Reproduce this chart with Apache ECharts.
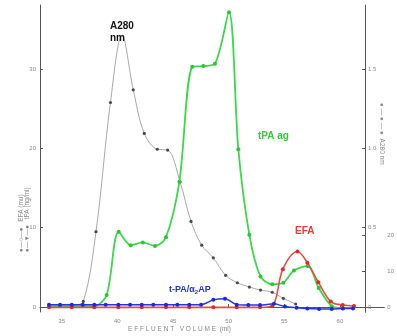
<!DOCTYPE html>
<html>
<head>
<meta charset="utf-8">
<script src="https://cdn.jsdelivr.net/npm/echarts@6/dist/echarts.min.js"></script>
<style>
html,body{margin:0;padding:0;background:#fff;}
#c{width:397px;height:336px;}
</style>
</head>
<body>
<div id="c"></div>
<script>
// Effluent volume (ml) of each fraction, per series
const xGray = [35.99, 36.94, 38.08, 39.38, 40.42, 41.43, 42.42, 43.59, 44.52, 45.63, 46.62, 47.58, 48.62, 49.73, 50.78, 51.86, 52.86, 53.92, 54.91, 56.02];
const a280 = [0.01, 0.035, 0.475, 1.29, 1.715, 1.37, 1.095, 0.995, 0.99, 0.79, 0.54, 0.39, 0.31, 0.2, 0.153, 0.126, 0.107, 0.093, 0.055, 0.019];
const grayHiddenMarkerIndex = 4;

const xGreen = [33.86, 34.85, 35.9, 36.89, 37.93, 39.04, 40.12, 41.2, 42.28, 43.38, 44.37, 45.57, 46.73, 47.72, 48.77, 50.03, 50.87, 51.86, 52.86, 53.92, 54.91, 55.87, 57.1, 58.09, 59.26, 60.25, 61.22];
const tpaAg = [0.1, 0.1, 0.1, 0.1, 0.1, 1.5, 9.5, 7.8, 8.15, 7.7, 8.8, 15.8, 30.3, 30.4, 30.7, 37.2, 19.9, 9.1, 3.85, 2.86, 3.06, 4.6, 5.17, 2.4, 0.1, -0.15, -0.1];

const xBlue = [33.86, 34.85, 35.9, 36.89, 37.93, 38.95, 40.09, 41.14, 42.19, 43.23, 44.37, 45.39, 46.46, 47.52, 48.62, 49.67, 50.72, 51.77, 52.82, 54.07, 55.06, 56.11, 57.07, 58.12, 59.26, 60.27, 61.17];
const tpaA2ap = [0.3, 0.3, 0.3, 0.3, 0.3, 0.3, 0.3, 0.3, 0.3, 0.3, 0.3, 0.3, 0.3, 0.3, 0.9, 1.05, 0.3, 0.25, 0.25, 0.4, 0.05, -0.1, -0.2, -0.25, -0.25, -0.2, -0.2];

const xRed = [33.86, 35.9, 37.93, 40.09, 42.19, 44.37, 46.46, 48.62, 50.72, 52.82, 53.92, 54.87, 56.18, 57.07, 58.06, 59.17, 60.25, 61.26];
const efa = [-0.1, -0.1, -0.1, -0.1, -0.1, -0.1, -0.1, -0.1, -0.1, -0.1, 0.3, 10.5, 15.4, 12.3, 6.9, 1.5, 0.55, 0.28];

// Tick labels
const xTicks = [35, 40, 45, 50, 55, 60];
const leftTicks = [0, 10, 20, 30];
const a280Ticks = [0, 0.5, 1.0, 1.5];
const a280TickLabels = ['0', '0.5', '1.0', '1.5'];
const efaTicks = [0, 10, 20];

const pair = (xs, ys) => xs.map((x, i) => [x, ys[i]]);

const chart = echarts.init(document.getElementById('c'), null, {renderer: 'canvas'});
const tickFont = {color: '#8a8a8a', fontSize: 6, fontFamily: 'Liberation Sans, Arial, sans-serif'};
const axisLine = {show: true, lineStyle: {color: '#555', width: 1}};
const smallFont = '6.5px Liberation Sans, Arial, sans-serif';

chart.setOption({
  animation: false,
  backgroundColor: '#fff',
  grid: [
    {left: 40, right: 32, top: 5, bottom: 24, containLabel: false},
    {left: 365, right: 10, top: 227, bottom: 24, containLabel: false}
  ],
  xAxis: [
    {
      type: 'value', gridIndex: 0, min: 33.05, max: 62.25,
      axisLine: axisLine,
      axisTick: {show: true, inside: true, length: 3, customValues: xTicks, lineStyle: {color: '#555'}},
      axisLabel: {show: true, customValues: xTicks, margin: 6, ...tickFont},
      splitLine: {show: false}
    },
    {
      type: 'value', gridIndex: 1, min: 0, max: 1,
      axisLine: axisLine, axisTick: {show: false}, axisLabel: {show: false}, splitLine: {show: false}
    }
  ],
  yAxis: [
    {
      type: 'value', gridIndex: 0, position: 'left', min: -0.63, max: 38.1,
      axisLine: axisLine,
      axisTick: {show: true, inside: true, length: 3, customValues: leftTicks, lineStyle: {color: '#555'}},
      axisLabel: {show: true, customValues: leftTicks, margin: 4, ...tickFont},
      splitLine: {show: false}
    },
    {
      type: 'value', gridIndex: 0, position: 'right', min: -0.0315, max: 1.905,
      axisLine: axisLine,
      axisTick: {show: true, inside: true, length: 3, customValues: a280Ticks, lineStyle: {color: '#555'}},
      axisLabel: {show: true, customValues: a280Ticks, margin: 3, ...tickFont,
        formatter: v => a280TickLabels[a280Ticks.indexOf(v)] ?? String(v)},
      splitLine: {show: false}
    },
    {
      type: 'value', gridIndex: 0, min: -1.39, max: 83.9, show: false
    },
    {
      type: 'value', gridIndex: 1, position: 'right', min: -1.39, max: 22.2,
      axisLine: axisLine,
      axisTick: {show: true, inside: true, length: 3, customValues: efaTicks, lineStyle: {color: '#555'}},
      axisLabel: {show: true, customValues: efaTicks, margin: 3, ...tickFont},
      splitLine: {show: false}
    }
  ],
  series: [
    {
      name: 'A280', type: 'line', xAxisIndex: 0, yAxisIndex: 1, smooth: 0.35,
      data: pair(xGray, a280).map((p, i) => i === grayHiddenMarkerIndex ? {value: p, symbol: 'none'} : p),
      symbol: 'circle', symbolSize: 3.2,
      lineStyle: {color: '#a8a8a8', width: 1},
      itemStyle: {color: '#4a4a4a'}, z: 2
    },
    {
      name: 'tPA ag', type: 'line', xAxisIndex: 0, yAxisIndex: 0, smooth: 0.3,
      data: pair(xGreen, tpaAg),
      symbol: 'circle', symbolSize: 4,
      lineStyle: {color: '#3cd84a', width: 1.8},
      itemStyle: {color: '#2cc43a'}, z: 3
    },
    {
      name: 'EFA', type: 'line', xAxisIndex: 0, yAxisIndex: 2, smooth: 0.35,
      data: pair(xRed, efa),
      symbol: 'circle', symbolSize: 4,
      lineStyle: {color: '#ee4a44', width: 1.6},
      itemStyle: {color: '#e02a24'}, z: 4
    },
    {
      name: 't-PA/a2AP', type: 'line', xAxisIndex: 0, yAxisIndex: 0, smooth: 0.3,
      data: pair(xBlue, tpaA2ap),
      symbol: 'circle', symbolSize: 4,
      lineStyle: {color: '#2436e0', width: 1.5},
      itemStyle: {color: '#1a2ad8'}, z: 5
    }
  ],
  graphic: [
    {type: 'text', left: 110, top: 20, z: 10,
      style: {text: 'A280\nnm', fill: '#111', font: 'bold 10px Liberation Sans, Arial, sans-serif', lineHeight: 12}},
    {type: 'text', left: 258, top: 131, z: 10,
      style: {text: 'tPA ag', fill: '#33cc3c', font: 'bold 10px Liberation Sans, Arial, sans-serif'}},
    {type: 'text', left: 295, top: 226, z: 10,
      style: {text: 'EFA', fill: '#ee3a30', font: 'bold 10px Liberation Sans, Arial, sans-serif'}},
    {type: 'text', left: 169, top: 285, z: 10,
      style: {
        text: '{a|t-PA/α}{s|2}{a|AP}',
        rich: {
          a: {fill: '#2233dd', font: 'bold 9px Liberation Sans, Arial, sans-serif'},
          s: {fill: '#2233dd', font: 'bold 6px Liberation Sans, Arial, sans-serif', padding: [5, 0, 0, 0]}
        }
      }},
    {type: 'text', left: 128, top: 326, z: 10,
      style: {text: 'E F F L U E N T   V O L U M E  (ml)', fill: '#8a8a8a', font: '6.5px Liberation Sans, Arial, sans-serif'}},
    {type: 'text', x: 17.5, y: 252, rotation: Math.PI / 2, z: 10,
      style: {text: '●—○—●   EFA (mu)', fill: '#8a8a8a', font: smallFont}},
    {type: 'text', x: 23.5, y: 252, rotation: Math.PI / 2, z: 10,
      style: {text: '●—▼—●   tPA (ng/ml)', fill: '#8a8a8a', font: smallFont}},
    {type: 'text', x: 385, y: 103, rotation: -Math.PI / 2, z: 10,
      style: {text: '● — ● — ●  A280 nm', fill: '#8a8a8a', font: smallFont}}
  ]
});
</script>
</body>
</html>
